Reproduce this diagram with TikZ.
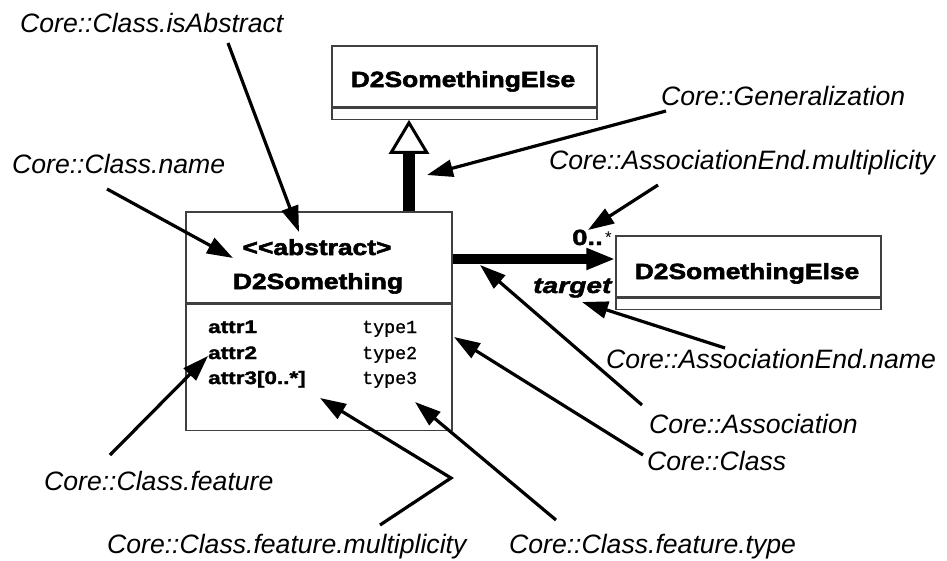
\documentclass[tikz,border=0pt]{standalone}
\usepackage{fontspec}
\setmainfont{Liberation Sans}
\newfontfamily\boxfont{Liberation Sans Bold}[FakeStretch=1.2,FakeBold=2.5]
\newfontfamily\attrfont{Liberation Sans Bold}[FakeStretch=1.25,FakeBold=2]
\newfontfamily\rolefont{Liberation Sans Bold Italic}[FakeStretch=1.28,FakeBold=2]
\newfontfamily\typefont{Liberation Mono}[FakeBold=1]
\usetikzlibrary{arrows.meta}
\tikzset{
  compart/.style={draw=black!75, line width=1.2pt, inner sep=0pt, fill=white},
  lbl/.style={font=\fontsize{26.6}{30}\selectfont\itshape, inner sep=0pt, anchor=base west},
  ttl/.style={font=\boxfont\fontsize{22}{26}\selectfont, inner sep=0pt, anchor=base},
  attr/.style={font=\attrfont\fontsize{18}{20}\selectfont, inner sep=0pt, anchor=base west},
  typ/.style={font=\typefont\fontsize{18.3}{20}\selectfont, inner sep=0pt, anchor=base west},
  ptr/.style={line width=3.2pt, -{Triangle[length=26pt,width=17pt]}},
  assoc/.style={line width=10pt, -{Triangle[length=29pt,width=20pt]}},
  gen/.style={line width=12pt, -{Triangle[open,length=34pt,width=40pt,line width=3pt]}},
}
\begin{document}
\begin{tikzpicture}[x=1pt,y=-1pt]
\useasboundingbox (0,0) rectangle (947,560);
\fill[white] (0,0) rectangle (947,560);

% top class
\node[compart, minimum width=265pt, minimum height=61pt] (topname) at (464.5,76.5) {};
\node[compart, minimum width=265pt, minimum height=11pt, anchor=north] (topattr) at (topname.south) {};
\node[ttl] (toptitle) at (463,87) {D2SomethingElse};

% main class
\node[compart, minimum width=266pt, minimum height=91pt] (main) at (319,257.5) {};
\node[compart, minimum width=266pt, minimum height=126pt, anchor=north] (mainattr) at (main.south) {};
\node[ttl] (mainst) at (317,255) {{<}{<}abstract{>}};
\node[ttl] (maintitle) at (318,289) {D2Something};
\node[attr] (a1) at (208,333) {attr1};
\node[attr] (a2) at (208,359) {attr2};
\node[attr] (a3) at (208,384) {attr3[0..*]};
\node[typ] (t1) at (362,333) {type1};
\node[typ] (t2) at (362,359) {type2};
\node[typ] (t3) at (362,384) {type3};

% right class
\node[compart, minimum width=265pt, minimum height=61pt] (right) at (748.5,266.5) {};
\node[compart, minimum width=265pt, minimum height=11pt, anchor=north] (rightattr) at (right.south) {};
\node[ttl] (righttitle) at (747,279) {D2SomethingElse};

% association end labels
\node[inner sep=0pt, anchor=base west, font=\attrfont\fontsize{22}{24}\selectfont] (mult) at (572,245) {0..};
\node[inner sep=0pt, anchor=base west, font=\fontsize{17}{18}\selectfont] (star) at (605,243) {*};
\node[inner sep=0pt, anchor=base west, font=\rolefont\fontsize{22}{26}\selectfont] (role) at (533,293) {target};

% generalization and association
\coordinate (gx) at (409,0);
\draw[gen] (gx |- main.north) -- (gx |- topattr.south);
\coordinate (ay) at (0,259);
\draw[assoc] (main.east |- ay) -- (right.west |- ay);

% annotation labels
\node[lbl] (lAbs) at (20,32) {Core::Class.isAbstract};
\node[lbl] (lName) at (12,173) {Core::Class.name};
\node[lbl] (lGen) at (661,105) {Core::Generalization};
\node[lbl] (lMult) at (549,169) {Core::AssociationEnd.multiplicity};
\node[lbl] (lEnd) at (606,368) {Core::AssociationEnd.name};
\node[lbl] (lAssoc) at (649,433) {Core::Association};
\node[lbl] (lClass) at (647,470) {Core::Class};
\node[lbl] (lFeat) at (44,490) {Core::Class.feature};
\node[lbl] (lFMult) at (107,553) {Core::Class.feature.multiplicity};
\node[lbl] (lFType) at (509,553) {Core::Class.feature.type};

% pointer ends
\coordinate (sAbs) at (228,43);   \coordinate (eAbs) at (299,232);
\coordinate (sName) at (107,189); \coordinate (eName) at (233,258);
\coordinate (sGen) at (666,111);  \coordinate (eGen) at (427,175);
\coordinate (sMult) at (658,185); \coordinate (eMult) at (588,230);
\coordinate (sEnd) at (725,348);  \coordinate (eEnd) at (582,302);
\coordinate (sAssoc) at (642,405);\coordinate (eAssoc) at (480,265);
\coordinate (sClass) at (643,455);\coordinate (eClass) at (454,337);
\coordinate (sType) at (556,520); \coordinate (eType) at (415,402);
\coordinate (sFM) at (380,525); \coordinate (kFM) at (451,478); \coordinate (eFM) at (320,398);
\coordinate (sFeat) at (110,455); \coordinate (eFeat) at (208,356);

\draw[ptr] (sAbs) -- (eAbs);
\draw[ptr] (sName) -- (eName);
\draw[ptr] (sGen) -- (eGen);
\draw[ptr] (sMult) -- (eMult);
\draw[ptr] (sEnd) -- (eEnd);
\draw[ptr] (sAssoc) -- (eAssoc);
\draw[ptr] (sClass) -- (eClass);
\draw[ptr] (sType) -- (eType);
\draw[ptr, line join=miter] (sFM) -- (kFM) -- (eFM);
\draw[ptr] (sFeat) -- (eFeat);
\end{tikzpicture}
\end{document}
